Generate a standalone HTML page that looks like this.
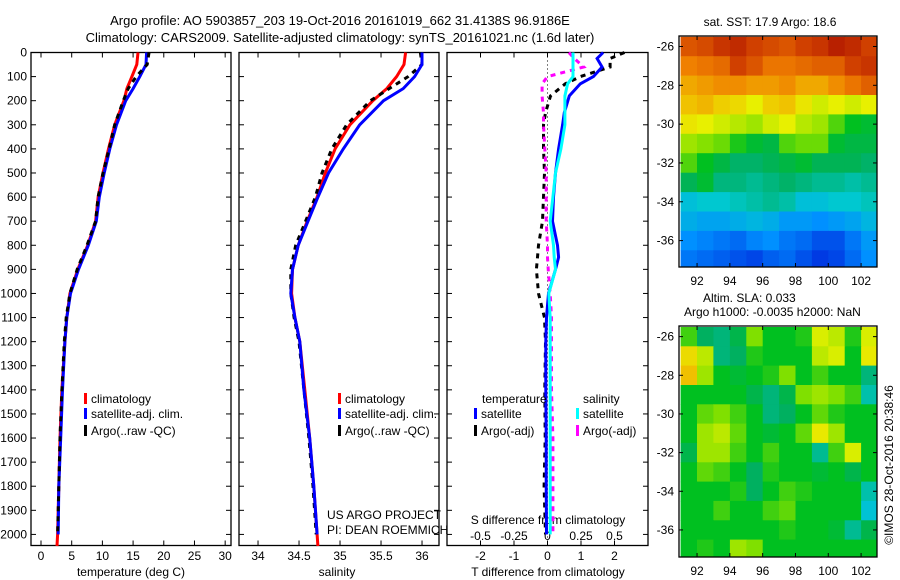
<!DOCTYPE html>
<html><head><meta charset="utf-8"><style>
html,body{margin:0;padding:0;background:#fff}
svg{display:block;font-family:"Liberation Sans",sans-serif}
</style></head><body>
<svg id="chart" width="900" height="580" viewBox="0 0 900 580" xmlns="http://www.w3.org/2000/svg"></svg>
<script>
// ---- data ----
const depths = [0,50,100,150,200,300,400,500,600,700,800,900,1000,1100,1200,1400,1600,1800,2000,2048];
const tempClim = [15.8,15.6,14.8,14.0,13.5,12.0,11.0,10.1,9.3,8.9,7.6,6.0,4.7,4.2,3.9,3.4,3.1,2.9,2.7,2.6];
const tempSat = [17.2,17.1,16.1,15.0,13.8,12.3,11.2,10.3,9.5,9.0,7.7,6.1,4.8,4.2,3.9,3.5,3.2,2.9,2.8,2.8];
const tempArgo = [17.6,17.3,15.5,14.2,13.4,12.0,11.1,10.1,9.3,8.9,7.5,5.9,4.7,4.1,3.8,3.4,3.1,2.9,2.7,2.7];
const salClim = [35.80,35.78,35.69,35.57,35.40,35.12,34.94,34.82,34.72,34.60,34.49,34.42,34.41,34.45,34.51,34.57,34.63,34.68,34.72,34.73];
const salSat = [36.0,36.0,35.91,35.77,35.53,35.24,35.04,34.86,34.73,34.61,34.49,34.42,34.40,34.45,34.51,34.56,34.63,34.68,34.72,34.72];
const salArgo = [35.98,36.0,35.83,35.60,35.37,35.08,34.90,34.78,34.70,34.58,34.46,34.40,34.40,34.44,34.50,34.56,34.62,34.67,34.71,34.71];
const diffDepths = [0,25,60,100,130,180,250,300,400,500,600,700,800,850,900,1000,1100,1200,1400,1600,1800,2000];
const tDiffSat = [1.66,1.48,1.63,1.37,0.98,0.65,0.5,0.45,0.33,0.24,0.18,0.15,0.3,0.33,0.24,0.03,-0.03,-0.05,-0.05,-0.04,-0.04,-0.03];
const tDiffArgo = [2.3,1.87,1.87,0.98,0.53,0.09,-0.06,-0.12,-0.12,-0.09,-0.12,-0.15,-0.27,-0.3,-0.33,-0.27,-0.09,-0.06,-0.08,-0.07,-0.1,-0.06];
const sDiffSat = [0.19,0.19,0.19,0.19,0.15,0.13,0.13,0.13,0.10,0.06,0.04,0.02,0.045,0.05,0.06,0.01,0.02,0.02,0.02,0.02,0.02,0.02];
const sDiffArgo = [0.16,0.2,0.27,0.0,-0.04,-0.04,-0.03,-0.03,-0.02,-0.01,-0.01,-0.01,0.0,0.0,0.005,0.02,0.03,0.03,0.03,0.04,0.04,0.04];
const depthTicks = [0,100,200,300,400,500,600,700,800,900,1000,1100,1200,1300,1400,1500,1600,1700,1800,1900,2000];
const tempTicks = [0,5,10,15,20,25,30];
const salTicks = [34,34.5,35,35.5,36];
const salTickLabels = ["34","34.5","35","35.5","36"];
const tdTicks = [-2,-1,0,1,2];
const sdTicks = [-0.5,-0.25,0,0.25,0.5];
const sdTickLabels = ["-0.5","-0.25","0","0.25","0.5"];
const mapLats = [-26,-27,-28,-29,-30,-31,-32,-33,-34,-35,-36,-37];
const mapLons = [91.5,92.5,93.5,94.5,95.5,96.5,97.5,98.5,99.5,100.5,101.5,102.5];
const latTicks = [-26,-28,-30,-32,-34,-36];
const lonTicks = [92,94,96,98,100,102];
const sstGrid = [
[19.2,19.3,19.5,19.6,19.4,19.3,19.2,19.4,19.5,19.7,19.6,19.4],
[18.8,18.9,19.0,19.4,19.2,18.9,18.9,19.0,19.1,19.1,19.4,19.5],
[18.5,18.6,18.7,18.7,18.6,18.6,18.7,18.5,18.5,18.7,18.9,19.1],
[18.3,18.4,18.2,18.1,17.9,18.2,18.3,18.0,17.8,17.9,17.8,17.9],
[18.0,17.9,17.8,17.7,17.6,17.8,17.9,17.7,17.6,17.3,17.0,16.9],
[17.6,17.5,17.4,17.1,16.9,16.8,17.3,17.4,17.4,16.9,16.8,16.8],
[17.3,17.0,16.8,16.6,16.6,16.7,16.8,16.9,16.7,16.7,16.7,16.6],
[16.7,16.9,16.5,16.5,16.4,16.5,16.6,16.5,16.4,16.4,16.3,16.4],
[16.0,16.1,16.1,16.2,16.3,16.4,16.3,16.0,16.0,16.1,16.1,16.2],
[15.8,15.7,15.7,15.8,15.9,15.8,15.6,15.6,15.5,15.6,15.7,15.9],
[15.5,15.4,15.3,15.2,15.4,15.5,15.3,15.2,15.0,15.0,15.3,15.6],
[15.3,15.2,15.1,15.0,14.9,15.1,15.2,15.0,14.8,14.9,15.2,15.5]];
const slaGrid = [
[0.02,-0.03,-0.04,-0.02,0.04,0.0,0.0,0.01,0.07,0.06,0.01,0.07],
[0.09,0.06,-0.04,-0.03,0.01,0.0,0.0,0.0,0.06,0.07,0.0,0.08],
[0.11,0.05,0.0,-0.01,0.0,0.01,0.04,0.0,0.02,0.0,0.0,-0.04],
[0.0,0.0,0.0,0.0,-0.02,-0.04,-0.02,0.04,0.05,0.04,0.02,-0.06],
[0.0,0.03,0.04,0.02,0.0,-0.04,-0.03,0.0,0.03,0.01,0.0,0.0],
[0.0,0.05,0.06,0.03,0.0,-0.01,0.0,0.03,0.08,0.05,0.0,0.0],
[-0.02,0.05,0.05,0.02,0.0,0.02,0.0,0.0,-0.05,0.02,0.07,0.0],
[0.0,0.03,0.02,0.0,-0.03,0.01,0.0,0.0,-0.01,0.0,-0.02,0.0],
[0.0,0.0,0.0,0.01,-0.03,0.0,0.02,0.01,0.0,0.0,0.0,-0.06],
[0.0,0.0,0.02,0.0,0.0,0.02,0.03,0.0,0.0,0.0,0.0,-0.08],
[0.0,0.0,0.0,0.0,0.0,0.0,0.01,0.0,0.0,-0.01,-0.05,-0.02],
[0.0,0.01,0.0,0.05,0.04,0.0,0.0,0.0,0.0,0.0,0.0,0.0]];

// ---- helpers ----
const NS = "http://www.w3.org/2000/svg";
const svg = document.getElementById('chart');
function mk(tag, parent){ const e=document.createElementNS(NS,tag); (parent||svg).appendChild(e); return e; }
function lin(d0,d1,r0,r1){ return v => r0+(v-d0)*(r1-r0)/(d1-d0); }
function txt(x,y,s,anchor,size,parent){ const t=mk('text',parent); t.setAttribute('x',x); t.setAttribute('y',y); t.setAttribute('font-size',size||12); t.setAttribute('text-anchor',anchor||'start'); t.textContent=s; return t; }

const Y = lin(0,2046,52.5,545.5);
const xT = lin(-1.63,30.95,31,231);
const xS = lin(33.768,36.207,239,439);
const xTD = lin(-3,3,447,648);
const xSD = lin(-0.75,0.75,447,648);

function frame(x0,x1,y0,y1,name){
  const r=mk('rect'); r.setAttribute('x',x0); r.setAttribute('y',y0); r.setAttribute('width',x1-x0); r.setAttribute('height',y1-y0);
  r.setAttribute('fill','none'); r.setAttribute('stroke','#000'); r.setAttribute('stroke-width',1.3);
  
  
}
function vtick(x,y0,y1){ const l=mk('line'); l.setAttribute('x1',x); l.setAttribute('x2',x); l.setAttribute('y1',y0); l.setAttribute('y2',y1); l.setAttribute('stroke','#000'); }
function htick(y,x0,x1){ const l=mk('line'); l.setAttribute('x1',x0); l.setAttribute('x2',x1); l.setAttribute('y1',y); l.setAttribute('y2',y); l.setAttribute('stroke','#000'); }
function line(xs,ds,xf,yf,color,dash,name){
  const p=mk('polyline');
  p.setAttribute('points', xs.map((v,i)=>xf(v).toFixed(1)+','+yf(ds[i]).toFixed(1)).join(' '));
  p.setAttribute('fill','none'); p.setAttribute('stroke',color); p.setAttribute('stroke-width',3);
  if(dash) p.setAttribute('stroke-dasharray',dash);
  
  
}

// ---- titles ----
let t = txt(340,25,"Argo profile: AO 5903857_203 19-Oct-2016 20161019_662 31.4138S 96.9186E",'middle',13);


t = txt(340,42,"Climatology: CARS2009. Satellite-adjusted climatology: synTS_20161021.nc (1.6d later)",'middle',13);



// ---- profile panels ----
const panels = [[31,231],[239,439],[447,648]];
panels.forEach((p,i)=>{
  frame(p[0],p[1],52.5,545.5,'profile-panel-'+(i+1)+'-frame');
  depthTicks.forEach(d=>{ htick(Y(d),p[0],p[0]+5); htick(Y(d),p[1]-5,p[1]); });
});
depthTicks.forEach(d=>{
  const l=txt(27,Y(d)+4,String(d),'end',12);
  
  
});
tempTicks.forEach(v=>{
  vtick(xT(v),52.5,57.5); vtick(xT(v),540.5,545.5);
  const l=txt(xT(v),560,String(v),'middle',12);
  
  
});
salTicks.forEach((v,i)=>{
  vtick(xS(v),52.5,57.5); vtick(xS(v),540.5,545.5);
  const l=txt(xS(v),560,salTickLabels[i],'middle',12);
  
  
});
tdTicks.forEach(v=>{
  vtick(xTD(v),52.5,57.5); vtick(xTD(v),540.5,545.5);
  const l=txt(xTD(v),560,String(v),'middle',12);
  
  
});
sdTicks.forEach((v,i)=>{
  const l=txt(xSD(v),540,sdTickLabels[i],'middle',12);
  
  
});
t=txt(131,576,"temperature (deg C)",'middle',12);


t=txt(337,576,"salinity",'middle',12);


t=txt(548,576,"T difference from climatology",'middle',12);


t=txt(548,524,"S difference from climatology",'middle',12);



// zero line
const zl=mk('line'); zl.setAttribute('x1',xTD(0)); zl.setAttribute('x2',xTD(0)); zl.setAttribute('y1',52.5); zl.setAttribute('y2',545.5);
zl.setAttribute('stroke','#000'); zl.setAttribute('stroke-dasharray','1,3');



// series
line(tempClim,depths,xT,Y,'#f00',null,'temperature-climatology-line');
line(tempSat,depths.slice(0,19),xT,Y,'#00f',null,'temperature-satellite-line');
line(tempArgo.slice(0,19),depths.slice(0,19),xT,Y,'#000','5,5','temperature-argo-line');
line(salClim,depths,xS,Y,'#f00',null,'salinity-climatology-line');
line(salArgo.slice(0,19),depths.slice(0,19),xS,Y,'#000','5,5','salinity-argo-line');
line(salSat.slice(0,19),depths.slice(0,19),xS,Y,'#00f',null,'salinity-satellite-line');
line(tDiffArgo,diffDepths,xTD,Y,'#000','5,5','t-diff-argo-line');
line(sDiffArgo,diffDepths,xSD,Y,'#f0f','5,5','s-diff-argo-line');
line(tDiffSat,diffDepths,xTD,Y,'#00f',null,'t-diff-satellite-line');
line(sDiffSat,diffDepths,xSD,Y,'#0ff',null,'s-diff-satellite-line');

// legends
function legItem(x,y,color,label,name){
  const r=mk('rect'); r.setAttribute('x',x); r.setAttribute('y',y-10); r.setAttribute('width',3); r.setAttribute('height',11); r.setAttribute('fill',color);
  const l=txt(x+7,y,label,'start',12);
  
  
}
legItem(84,403,'#f00','climatology','legend-climatology-1');
legItem(84,418,'#00f','satellite-adj. clim.','legend-satellite-1');
legItem(84,435,'#000','Argo(..raw -QC)','legend-argo-1');
legItem(338,403,'#f00','climatology','legend-climatology-2');
legItem(338,418,'#00f','satellite-adj. clim.','legend-satellite-2');
legItem(338,435,'#000','Argo(..raw -QC)','legend-argo-2');
t=txt(482,403,"temperature",'start',12);


t=txt(583,403,"salinity",'start',12);


legItem(474,418,'#00f','satellite','legend-t-satellite');
legItem(474,435,'#000','Argo(-adj)','legend-t-argo');
legItem(576,418,'#0ff','satellite','legend-s-satellite');
legItem(576,435,'#f0f','Argo(-adj)','legend-s-argo');
t=txt(327,519,"US ARGO PROJECT",'start',12);


t=txt(327,534,"PI: DEAN ROEMMICH",'start',12);



// ---- maps ----
const stops=[[0,[0,0,128]],[0.12,[0,48,224]],[0.25,[0,144,255]],[0.35,[0,200,208]],[0.44,[0,176,96]],[0.5,[0,192,32]],[0.58,[128,224,0]],[0.65,[232,240,0]],[0.72,[240,192,0]],[0.8,[240,128,0]],[0.9,[208,64,0]],[1,[160,0,0]]];
function cmap(v){
  v=Math.max(0,Math.min(1,v));
  for(let i=1;i<stops.length;i++){ if(v<=stops[i][0]){ const a=stops[i-1],b=stops[i],f=(v-a[0])/(b[0]-a[0]);
    const c=a[1].map((x,k)=>Math.round(x+(b[1][k]-x)*f)); return 'rgb('+c.join(',')+')'; } }
  return 'rgb(160,0,0)';
}
function drawMap(id,y0,y1,latTop,latBot,grid,cmin,cmax,name){
  const X=lin(90.9,102.97,679,877), L=lin(latTop,latBot,y0,y1);
  const cp=mk('clipPath'); cp.setAttribute('id',id);
  const cr=mk('rect',cp); cr.setAttribute('x',679); cr.setAttribute('y',y0); cr.setAttribute('width',198); cr.setAttribute('height',y1-y0);
  const g=mk('g'); g.setAttribute('clip-path','url(#'+id+')');
  
  
  grid.forEach((row,i)=>row.forEach((v,j)=>{
    const r=mk('rect',g);
    const xa=X(mapLons[j]-0.5), xb=X(mapLons[j]+0.5), ya=L(mapLats[i]+0.5), yb=L(mapLats[i]-0.5);
    r.setAttribute('x',xa.toFixed(1)); r.setAttribute('y',ya.toFixed(1));
    r.setAttribute('width',(xb-xa+0.6).toFixed(1)); r.setAttribute('height',(yb-ya+0.6).toFixed(1));
    r.setAttribute('fill',cmap((v-cmin)/(cmax-cmin)));
    
    
  }));
  frame(679,877,y0,y1,name+'-frame');
  latTicks.forEach(v=>{ htick(L(v),679,683); htick(L(v),873,877);
    const l=txt(674,L(v)+4,String(v),'end',12);
    
    
  });
  lonTicks.forEach(v=>{ vtick(X(v),y0,y0+4); vtick(X(v),y1-4,y1);
    const l=txt(X(v),y1+18,String(v),'middle',12);
    
    
  });
}
drawMap('c1',36,267,-25.46,-37.36,sstGrid,14,20,'sst-map');
drawMap('c2',326,557,-25.45,-37.4,slaGrid,-0.25,0.25,'sla-map');
t=txt(770,26,"sat. SST: 17.9 Argo: 18.6",'middle',12);


t=txt(703,302,"Altim. SLA: 0.033",'start',12);


t=txt(684,316,"Argo h1000: -0.0035 h2000: NaN",'start',12);


t=txt(0,0,"©IMOS 28-Oct-2016 20:38:46",'middle',12);
t.setAttribute('transform','translate(893,465) rotate(-90)');


</script>
</body></html>
